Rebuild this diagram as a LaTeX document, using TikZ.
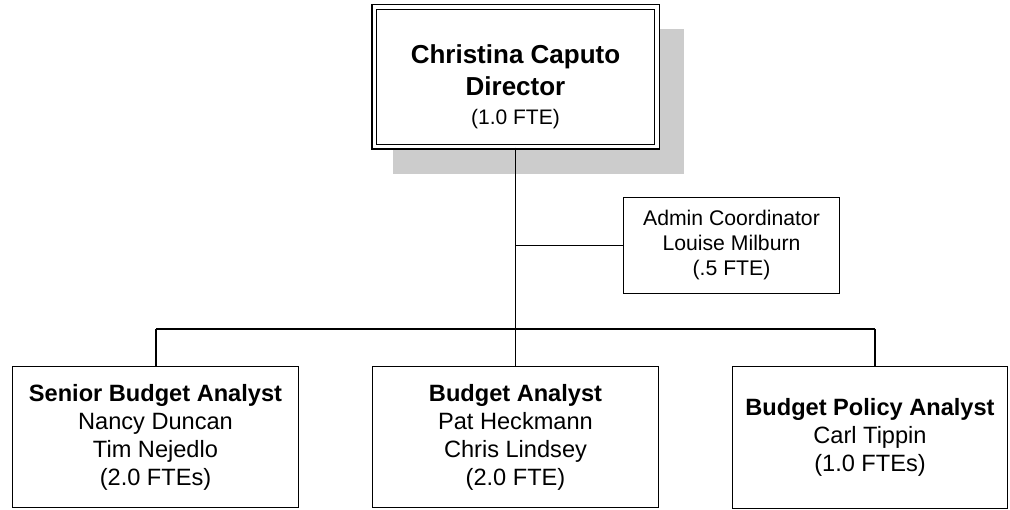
\documentclass[tikz,border=0pt]{standalone}
\usepackage{fontspec}
\setmainfont{Liberation Sans}
\begin{document}
\begin{tikzpicture}[x=1pt,y=-1pt,
  box/.style={draw=black, line width=1.4pt, fill=white, align=center, inner sep=0pt},
  lowbox/.style={box, font=\fontsize{23.6}{28}\selectfont},
  conn/.style={draw=black, line width=1.6pt}]
\useasboundingbox (0,0) rectangle (1010,510);
% shadow of the director box
\fill[gray!40] (393,29) rectangle (684,174);
% nodes
\node[draw=black, double=white, double distance=3.4pt, line width=1.5pt, fill=white,
      minimum width=282.6pt, minimum height=139.6pt, align=center, inner sep=0pt,
      font=\fontsize{26}{32}\selectfont] (dir) at (515.5,77)
  {\rule{0pt}{39pt}\textbf{Christina Caputo}\\\textbf{Director}\\[-3pt]{\fontsize{21}{23}\selectfont(1.0 FTE)}};
\node[box, minimum width=216pt, minimum height=96pt, font=\fontsize{21.2}{25}\selectfont]
  (admin) at (731.5,245.5) {Admin Coordinator\\Louise Milburn\\(.5 FTE)};
\node[lowbox, minimum width=286pt, minimum height=141pt] (sba) at (155.5,437)
  {\textbf{Senior Budget Analyst}\\Nancy Duncan\\Tim Nejedlo\\(2.0 FTEs)};
\node[lowbox, minimum width=286pt, minimum height=141pt] (ba) at (515.5,437)
  {\textbf{Budget Analyst}\\Pat Heckmann\\Chris Lindsey\\(2.0 FTE)};
\node[lowbox, minimum width=275pt, minimum height=142pt] (bpa) at (870,437.5)
  {\textbf{Budget Policy Analyst}\\Carl Tippin\\(1.0 FTEs)};
% connectors
\coordinate (busL) at (156,329);
\coordinate (busR) at (875,329);
\draw[conn] (dir.south) -- (dir.south |- busL);
\draw[conn] (busL) -- (busR);
\draw[conn] (busL) -- (busL |- sba.north);
\draw[conn] (dir.south |- busL) -- (ba.north);
\draw[conn] (busR) -- (busR |- bpa.north);
\draw[conn] (admin.west) -- (admin.west -| dir.south);
\end{tikzpicture}
\end{document}
